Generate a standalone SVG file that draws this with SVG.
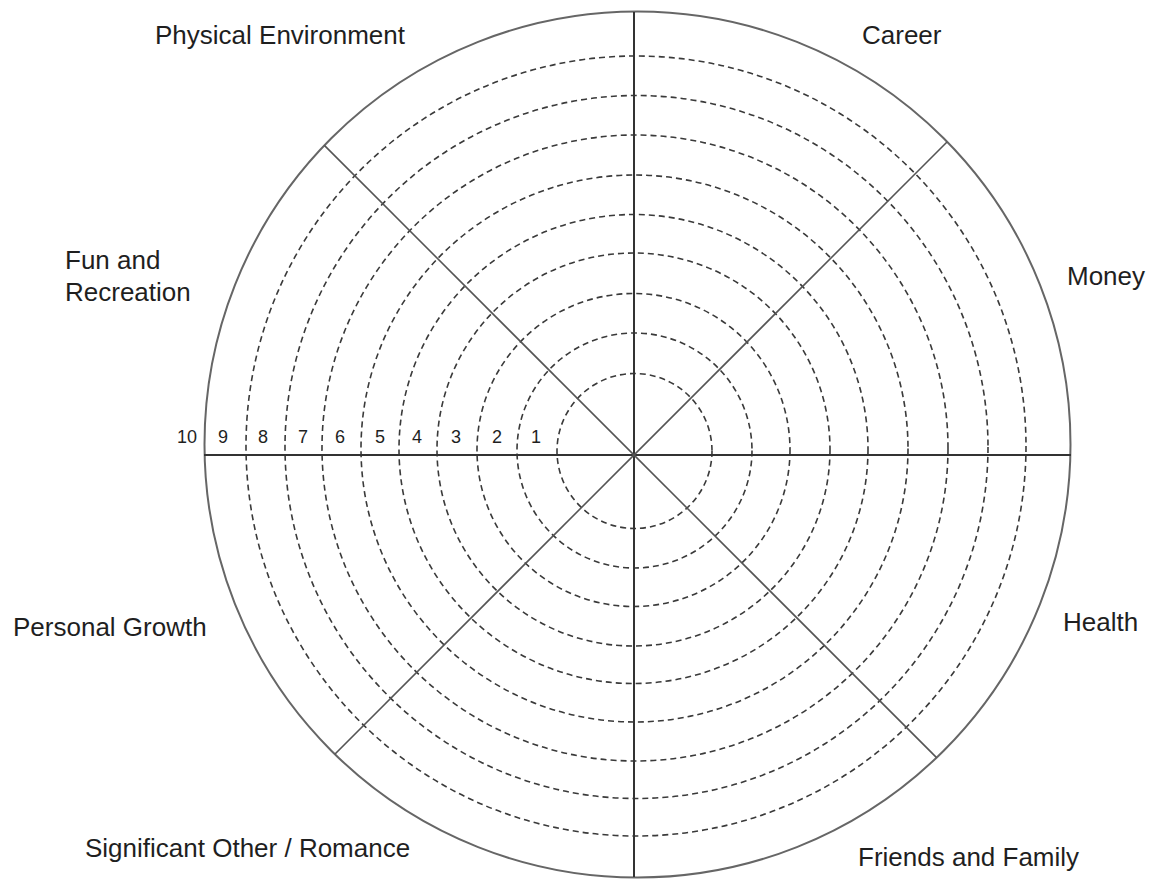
<svg xmlns="http://www.w3.org/2000/svg" width="1151" height="879" viewBox="0 0 1151 879">
<style>
.ring{fill:none;stroke:#3a3a3a;stroke-width:1.6;stroke-dasharray:6 4}
.outer{fill:none;stroke:#666;stroke-width:2}
.axis{stroke:#333;stroke-width:2}
.diag{stroke:#555;stroke-width:1.6}
.lbl{font-family:"Liberation Sans",Arial,sans-serif;font-size:26px;fill:#1f1f1f}
.num{font-family:"Liberation Sans",Arial,sans-serif;font-size:18px;fill:#1f1f1f;text-anchor:middle}
</style>
<rect width="1151" height="879" fill="#fff"/>
<g id="rings">
<circle class="ring" cx="634.5" cy="451" r="77.5"/>
<circle class="ring" cx="634.5" cy="450.5" r="117.5"/>
<circle class="ring" cx="633.5" cy="450" r="156.5"/>
<circle class="ring" cx="633.5" cy="449.5" r="196.5"/>
<circle class="ring" cx="633.5" cy="449" r="234.5"/>
<circle class="ring" cx="634.5" cy="448.5" r="273.5"/>
<circle class="ring" cx="635" cy="448" r="313"/>
<circle class="ring" cx="636.5" cy="447" r="351.5"/>
<circle class="ring" cx="636" cy="446" r="390"/>
</g>
<g id="outer-circle">
<circle class="outer" cx="637.5" cy="444.5" r="433"/>
</g>
<g id="connectors">
<line class="axis" x1="634" y1="12" x2="634" y2="877"/>
<line class="axis" x1="204" y1="455" x2="1071" y2="455"/>
<line class="diag" x1="324.4" y1="145.4" x2="936.6" y2="757.6"/>
<line class="diag" x1="947" y1="142" x2="334.8" y2="754.2"/>
</g>
<g id="scale">
<text class="num" x="187" y="443">10</text>
<text class="num" x="223" y="443">9</text>
<text class="num" x="263" y="443">8</text>
<text class="num" x="303" y="443">7</text>
<text class="num" x="340" y="443">6</text>
<text class="num" x="380" y="443">5</text>
<text class="num" x="417" y="443">4</text>
<text class="num" x="456" y="443">3</text>
<text class="num" x="497" y="443">2</text>
<text class="num" x="536" y="443">1</text>
</g>
<g id="physical-environment"><text class="lbl" x="155" y="44">Physical Environment</text></g>
<g id="career"><text class="lbl" x="862" y="44">Career</text></g>
<g id="money"><text class="lbl" x="1067" y="285">Money</text></g>
<g id="health"><text class="lbl" x="1063" y="631">Health</text></g>
<g id="friends-family"><text class="lbl" x="858" y="866">Friends and Family</text></g>
<g id="significant-other"><text class="lbl" x="85" y="857">Significant Other / Romance</text></g>
<g id="personal-growth"><text class="lbl" x="13" y="636">Personal Growth</text></g>
<g id="fun-recreation"><text class="lbl" x="65" y="269">Fun and</text><text class="lbl" x="65" y="301">Recreation</text></g>
</svg>
